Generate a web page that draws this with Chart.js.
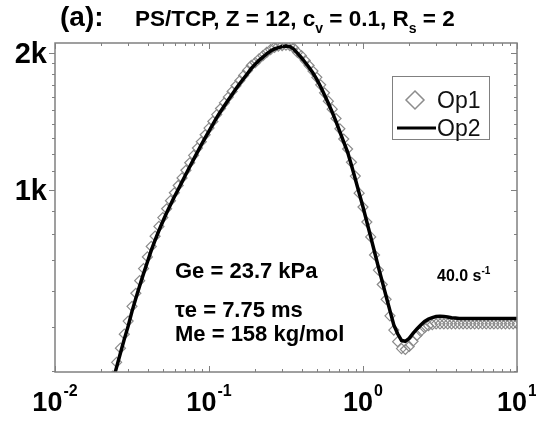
<!DOCTYPE html>
<html>
<head>
<meta charset="utf-8">
<script src="https://cdn.jsdelivr.net/npm/chart.js@4.4.1/dist/chart.umd.min.js"></script>
<style>
  html, body { margin: 0; padding: 0; background: #fff; }
  canvas { display: block; }
</style>
</head>
<body>
<canvas id="dynChart" width="536" height="425"></canvas>
<script>
// frequency (s^-1) of the sampled points
var freq = [
    0.023714, 0.025119, 0.026607, 0.028184, 0.029854, 0.031623, 0.033497, 0.035481, 0.037584, 0.039811,
    0.04217, 0.044668, 0.047315, 0.050119, 0.053088, 0.056234, 0.059566, 0.063096, 0.066834, 0.070795,
    0.074989, 0.079433, 0.08414, 0.089125, 0.094406,
    0.1, 0.10593, 0.1122, 0.11885, 0.12589, 0.13335, 0.14125, 0.14962, 0.15849, 0.16788,
    0.17783, 0.18836, 0.19953, 0.21135, 0.22387, 0.23714, 0.25119, 0.26607, 0.28184, 0.29854,
    0.31623, 0.33497, 0.35481, 0.37584, 0.39811, 0.4217, 0.44668, 0.47315, 0.50119, 0.53088,
    0.56234, 0.59566, 0.63096, 0.66834, 0.70795, 0.74989, 0.79433, 0.8414, 0.89125, 0.94406,
    1, 1.0593, 1.122, 1.1885, 1.2589, 1.3335, 1.4125, 1.4962, 1.5849, 1.6788,
    1.7783, 1.8836, 1.9953, 2.1135, 2.2387, 2.3714, 2.5119, 2.6607, 2.8184, 2.9854,
    3.1623, 3.3497, 3.5481, 3.7584, 3.9811, 4.217, 4.4668, 4.7315, 5.0119, 5.3088,
    5.6234, 5.9566, 6.3096, 6.6834, 7.0795, 7.4989, 7.9433, 8.414, 8.9125, 9.4406, 10
];

// Op1 (diamonds)
var op1 = [
    389, 417, 448, 481, 514, 554, 592, 631, 671, 712,
    751, 791, 831, 869, 909, 947, 986, 1023, 1063, 1105,
    1148, 1192, 1237, 1277, 1323, 1369, 1416, 1466, 1512, 1556,
    1602, 1649, 1697, 1742, 1788, 1834, 1881, 1908, 1945, 1977,
    2011, 2039, 2061, 2075, 2081, 2086, 2080, 2055, 2010, 1977,
    1928, 1880, 1828, 1771, 1705, 1637, 1569, 1507, 1437, 1364,
    1295, 1231, 1151, 1073, 984, 917, 850, 788, 719, 666,
    619, 574, 528, 491, 463, 447, 445, 452, 464, 478,
    488, 497, 502, 505, 507, 507, 507, 507, 507, 507,
    507, 507, 507, 507, 507, 507, 507, 507, 507, 507,
    507, 507, 507, 507, 507, 507
];

// Op2 (solid line)
var op2 = [
    379, 407, 437, 469, 501, 540, 577, 615, 654, 694,
    736, 775, 814, 852, 891, 928, 966, 1002, 1042, 1083,
    1125, 1168, 1212, 1258, 1303, 1348, 1395, 1444, 1489, 1533,
    1578, 1624, 1671, 1716, 1761, 1806, 1853, 1894, 1930, 1962,
    1996, 2024, 2045, 2059, 2071, 2076, 2070, 2045, 2000, 1957,
    1909, 1861, 1810, 1753, 1688, 1620, 1553, 1484, 1415, 1343,
    1275, 1212, 1134, 1057, 984, 917, 850, 788, 730, 676,
    628, 583, 542, 504, 482, 466, 464, 471, 483, 494,
    504, 513, 519, 523, 526, 527, 526, 525, 523, 522,
    521, 521, 521, 521, 521, 521, 521, 521, 521, 521,
    521, 521, 521, 521, 521, 521
];

// axis ticks
var xTicks = [0.01, 0.02, 0.03, 0.04, 0.05, 0.06, 0.07, 0.08, 0.09,
              0.1, 0.2, 0.3, 0.4, 0.5, 0.6, 0.7, 0.8, 0.9,
              1, 2, 3, 4, 5, 6, 7, 8, 9, 10];
var xMajor = [0.01, 0.1, 1, 10];
var xMajorExp = ['-2', '-1', '0', '1'];
var yTicks = [400, 500, 600, 700, 800, 900, 1000, 1100, 1200, 1300,
              1400, 1500, 1600, 1700, 1800, 1900, 2000];
var yMajor = [1000, 2000];
var yMajorLabels = ['1k', '2k'];

var FONT = "'Liberation Sans', Arial, sans-serif";

function line(ctx, x1, y1, x2, y2) {
    ctx.beginPath();
    ctx.moveTo(x1, y1);
    ctx.lineTo(x2, y2);
    ctx.stroke();
}

// draws text made of pieces, some of them sub/superscript
function drawPieces(ctx, x, y, pieces, size) {
    pieces.forEach(function (p) {
        var s = p.sub || p.sup ? Math.round(size * 0.6) : size;
        ctx.font = 'bold ' + s + 'px ' + FONT;
        var dy = p.sub ? size * 0.3 : (p.sup ? -size * 0.45 : 0);
        ctx.fillText(p.t, x, y + dy);
        x += ctx.measureText(p.t).width;
    });
}

var framePlugin = {
    id: 'frame',
    afterDatasetsDraw: function (chart) {
        var ctx = chart.ctx;
        var a = chart.chartArea;
        var xs = chart.scales.x, ys = chart.scales.y;
        ctx.save();

        // box
        ctx.strokeStyle = '#808080';
        ctx.lineWidth = 1.5;
        ctx.strokeRect(a.left, a.top, a.right - a.left, a.bottom - a.top);

        // ticks
        ctx.lineWidth = 1;
        xTicks.forEach(function (v) {
            var px = Math.round(xs.getPixelForValue(v)) + 0.5;
            var L = xMajor.indexOf(v) >= 0 ? 6 : 3;
            line(ctx, px, a.bottom, px, a.bottom - L);
            line(ctx, px, a.top, px, a.top + L);
        });
        yTicks.forEach(function (v) {
            var py = Math.round(ys.getPixelForValue(v)) + 0.5;
            var L = yMajor.indexOf(v) >= 0 ? 6 : 3;
            line(ctx, a.left - L, py, a.left, py);
            line(ctx, a.right - L, py, a.right, py);
        });

        ctx.fillStyle = '#000';
        ctx.textBaseline = 'alphabetic';

        // y labels
        ctx.textAlign = 'right';
        ctx.font = 'bold 29px ' + FONT;
        yMajor.forEach(function (v, i) {
            var py = ys.getPixelForValue(v);
            ctx.fillText(yMajorLabels[i], a.left - 8, py + 10);
        });

        // x labels 10^n
        ctx.textAlign = 'left';
        xMajor.forEach(function (v, i) {
            var px = xs.getPixelForValue(v);
            ctx.font = 'bold 27px ' + FONT;
            var w1 = ctx.measureText('10').width;
            ctx.font = 'bold 16px ' + FONT;
            var w2 = ctx.measureText(xMajorExp[i]).width;
            var x0 = px - (w1 + w2 + 1) / 2;
            ctx.font = 'bold 27px ' + FONT;
            ctx.fillText('10', x0, 411);
            ctx.font = 'bold 16px ' + FONT;
            ctx.fillText(xMajorExp[i], x0 + w1 + 1, 396);
        });

        // title
        ctx.font = 'bold 28px ' + FONT;
        ctx.fillText('(a):', 60, 26);
        drawPieces(ctx, 135, 26, [
            { t: 'PS/TCP, Z = 12, c' }, { t: 'v', sub: true },
            { t: ' = 0.1, R' }, { t: 's', sub: true }, { t: ' = 2' }
        ], 22.5);

        // annotations
        ctx.font = 'bold 22px ' + FONT;
        ctx.fillText('Ge = 23.7 kPa', 175, 278);
        ctx.fillText('\u03C4e = 7.75 ms', 175, 317);
        ctx.fillText('Me = 158 kg/mol', 175, 341);
        drawPieces(ctx, 437, 281, [{ t: '40.0 s' }, { t: '-1', sup: true }], 16);

        // legend
        ctx.strokeStyle = '#808080';
        ctx.lineWidth = 1;
        ctx.strokeRect(392.5, 76.5, 97, 63);
        ctx.strokeStyle = '#8c8c8c';
        ctx.lineWidth = 1.5;
        ctx.beginPath();
        ctx.moveTo(415, 91); ctx.lineTo(424, 100); ctx.lineTo(415, 109); ctx.lineTo(406, 100);
        ctx.closePath();
        ctx.stroke();
        ctx.strokeStyle = '#000';
        ctx.lineWidth = 3;
        line(ctx, 397, 128, 436, 128);
        ctx.fillStyle = '#111';
        ctx.font = '23px ' + FONT;
        ctx.fillText('Op1', 437, 108);
        ctx.fillText('Op2', 437, 136);

        ctx.restore();
    }
};

var ctx = document.getElementById('dynChart').getContext('2d');
var dynChart = new Chart(ctx, {
    type: 'line',
    data: {
        datasets: [{
            label: 'Op2',
            data: freq.map(function (f, i) { return { x: f, y: op2[i] }; }),
            borderColor: '#000',
            borderWidth: 3.5,
            pointRadius: 0,
            tension: 0,
            order: 1
        }, {
            label: 'Op1',
            data: freq.map(function (f, i) { return { x: f, y: op1[i] }; }),
            showLine: false,
            pointStyle: 'rectRot',
            pointRadius: 5,
            pointBorderWidth: 1.2,
            pointBorderColor: '#8a8a8a',
            pointBackgroundColor: 'rgba(255,255,255,0)',
            order: 2
        }]
    },
    options: {
        responsive: false,
        animation: false,
        layout: {
            padding: { left: 55, right: 19, top: 43, bottom: 53 }
        },
        plugins: {
            legend: { display: false },
            tooltip: { enabled: false }
        },
        scales: {
            x: {
                type: 'logarithmic',
                min: 0.01,
                max: 10,
                display: false
            },
            y: {
                type: 'logarithmic',
                min: 397,
                max: 2108,
                display: false
            }
        }
    },
    plugins: [framePlugin]
});
</script>
</body>
</html>
